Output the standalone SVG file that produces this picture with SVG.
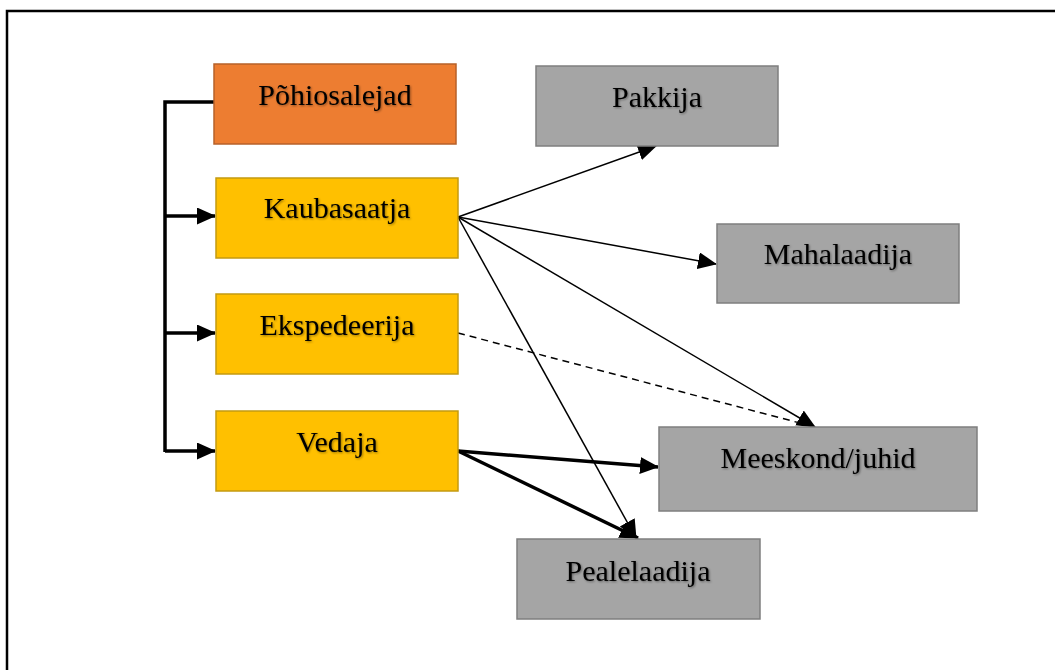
<svg xmlns="http://www.w3.org/2000/svg" width="1055" height="670" viewBox="0 0 1055 670">
  <style>
    .lbl { font-family: "Liberation Serif", "Times New Roman", serif; font-size: 30px; fill: #000; text-anchor: middle; filter: url(#shadow); }
    .main { fill: #ED7D31; stroke: #B7612A; stroke-width: 1.5; }
    .role { fill: #FFC000; stroke: #C49A10; stroke-width: 1.5; }
    .aux { fill: #A5A5A5; stroke: #7F7F7F; stroke-width: 1.5; }
    .c { fill: none; stroke: #000; }
    .thin { stroke-width: 1.5; }
    .thick { stroke-width: 3.5; }
    .dash { stroke-width: 1.5; stroke-dasharray: 7 5; }
  </style>
  <defs>
    <filter id="shadow" x="-10%" y="-20%" width="130%" height="150%">
      <feDropShadow dx="1" dy="1" stdDeviation="1.2" flood-color="#000" flood-opacity="0.4"/>
    </filter>
    <marker id="ah" markerUnits="userSpaceOnUse" markerWidth="20" markerHeight="18" refX="18" refY="8.5" orient="auto">
      <path d="M0,0 L19,8.5 L0,17 Z" fill="#000"/>
    </marker>
  </defs>

  <rect x="7" y="11" width="1060" height="680" fill="#fff" stroke="#000" stroke-width="2.5"/>

  <g id="connectors">
    <!-- bracket from main participants -->
    <path class="c thick" d="M214,102 H165 V452"/>
    <path class="c thick" d="M165,216 H215" marker-end="url(#ah)"/>
    <path class="c thick" d="M165,333 H215" marker-end="url(#ah)"/>
    <path class="c thick" d="M165,451 H215" marker-end="url(#ah)"/>
    <!-- shipper -->
    <path class="c thin" d="M458,217 L656,146" marker-end="url(#ah)"/>
    <path class="c thin" d="M458,217 L716,264" marker-end="url(#ah)"/>
    <path class="c thin" d="M458,217 L815,427" marker-end="url(#ah)"/>
    <path class="c thin" d="M458,217 L636,538" marker-end="url(#ah)"/>
    <!-- forwarder -->
    <path class="c dash" d="M458,333 L815,427"/>
    <!-- carrier -->
    <path class="c thick" d="M458,451 L658,467" marker-end="url(#ah)"/>
    <path class="c thick" d="M458,451 L638,538" marker-end="url(#ah)"/>
  </g>

  <g id="pohiosalejad">
    <rect class="main" x="214" y="64" width="242" height="80"/>
    <text class="lbl" x="335" y="105">Põhiosalejad</text>
  </g>
  <g id="kaubasaatja">
    <rect class="role" x="216" y="178" width="242" height="80"/>
    <text class="lbl" x="337" y="218">Kaubasaatja</text>
  </g>
  <g id="ekspedeerija">
    <rect class="role" x="216" y="294" width="242" height="80"/>
    <text class="lbl" x="337" y="335">Ekspedeerija</text>
  </g>
  <g id="vedaja">
    <rect class="role" x="216" y="411" width="242" height="80"/>
    <text class="lbl" x="337" y="452">Vedaja</text>
  </g>
  <g id="pakkija">
    <rect class="aux" x="536" y="66" width="242" height="80"/>
    <text class="lbl" x="657" y="107">Pakkija</text>
  </g>
  <g id="mahalaadija">
    <rect class="aux" x="717" y="224" width="242" height="79"/>
    <text class="lbl" x="838" y="264">Mahalaadija</text>
  </g>
  <g id="meeskond">
    <rect class="aux" x="659" y="427" width="318" height="84"/>
    <text class="lbl" x="818" y="468">Meeskond/juhid</text>
  </g>
  <g id="pealelaadija">
    <rect class="aux" x="517" y="539" width="243" height="80"/>
    <text class="lbl" x="638" y="581">Pealelaadija</text>
  </g>
</svg>
